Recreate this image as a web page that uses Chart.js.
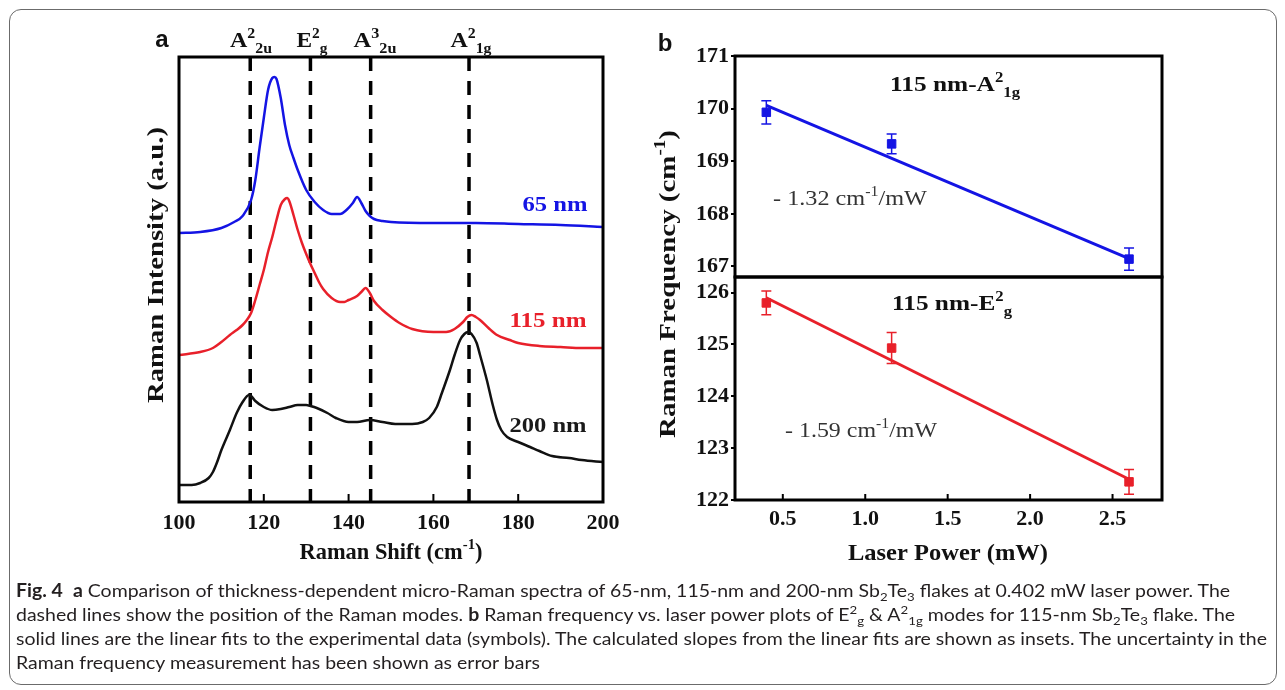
<!DOCTYPE html>
<html>
<head>
<meta charset="utf-8">
<script src="https://cdn.jsdelivr.net/npm/chart.js@4.4.1/dist/chart.umd.min.js"></script>
<style>
  html, body { margin: 0; padding: 0; background: #fff; }
  body { width: 1285px; height: 690px; position: relative; overflow: hidden; }
  .frame { position: absolute; left: 9px; top: 9px; width: 1266px; height: 674px;
           border: 1.5px solid #6b6b6b; border-radius: 12px; }
  canvas { position: absolute; left: 0; top: 0; }
  .caption { position: absolute; left: 16px; top: 578px; font-family: Lato, "Open Sans", sans-serif;
             font-size: 18px; color: #231f20; line-height: 24px; }
  .caption div { white-space: nowrap; width: max-content; transform-origin: 0 50%; }
  .caption sub, .caption sup { font-size: 0.68em; line-height: 0; }
  .caption sup { vertical-align: 0.55em; }
  .caption sub { vertical-align: -0.3em; }
</style>
</head>
<body>
<div class="frame"></div>
<canvas id="spectra" width="1285" height="690"></canvas>
<canvas id="a1g" width="1285" height="690"></canvas>
<canvas id="eg" width="1285" height="690"></canvas>
<div class="caption">
  <div><b>Fig. 4</b>&nbsp; <b>a</b> Comparison of thickness-dependent micro-Raman spectra of 65-nm, 115-nm and 200-nm Sb<sub>2</sub>Te<sub>3</sub> flakes at 0.402 mW laser power. The</div>
  <div>dashed lines show the position of the Raman modes. <b>b</b> Raman frequency vs. laser power plots of E<sup>2</sup><sub>g</sub> &amp; A<sup>2</sup><sub>1g</sub> modes for 115-nm Sb<sub>2</sub>Te<sub>3</sub> flake. The</div>
  <div>solid lines are the linear fits to the experimental data (symbols). The calculated slopes from the linear fits are shown as insets. The uncertainty in the</div>
  <div>Raman frequency measurement has been shown as error bars</div>
</div>
<script>
// ---------- Data (panel a: spectra) ----------
const blueShift = [100, 105, 110, 113, 115, 117, 118, 119, 120, 121, 122, 122.5, 123, 124, 125, 126, 127, 128, 130, 132, 134, 136, 138, 139.5, 141, 142, 143, 144, 145, 146, 148, 150, 160, 170, 180, 190, 200];
const blueInt   = [269, 270, 274, 280, 286, 302, 322, 354, 384, 412, 424, 425, 423, 404, 377, 357, 344, 332, 312, 300, 292, 288, 288, 292, 299, 305, 299, 291, 286, 283, 281, 280, 279, 279, 278, 277, 275];

const redShift = [100, 105, 108, 110, 112, 113.6, 115, 116, 117, 118, 119, 120, 121, 122, 123, 124, 125, 125.5, 126, 127, 128, 129, 130, 131, 132, 133, 134, 136, 138, 139, 140, 142, 143, 144, 145, 146, 148, 150, 152, 155, 160, 163, 165, 167, 168, 169, 170, 171, 173, 175, 178, 180, 185, 190, 195, 200];
const redInt   = [147, 150, 154, 160, 167, 172, 177, 182, 189, 202, 217, 232, 250, 265, 282, 297, 303, 304, 301, 287, 272, 259, 248, 238, 229, 220, 213, 204, 200, 200, 202, 206, 210, 214, 209, 201, 192, 185, 179, 173, 170, 170, 173, 180, 185, 187, 185, 182, 174, 167, 162, 159, 156, 155, 154, 154];

const blackShift = [100, 103, 105, 107, 108, 109, 110, 112, 113.6, 115, 116.5, 117, 118, 120, 122, 124, 126, 128, 130, 131, 132.5, 135, 137, 140, 142, 145, 148, 151, 155, 157.5, 159, 160.8, 162, 163.9, 165, 166.3, 167.3, 168.2, 169, 170.2, 171, 172.6, 174, 175, 176, 177.4, 180, 182.8, 185, 188, 192, 195, 200];
const blackInt   = [17, 17, 19, 24, 30, 40, 52, 72, 89, 100, 107, 106, 101, 95, 92, 93, 95, 97, 97, 96, 94, 89, 84, 80, 80, 82, 80, 78, 78, 80, 84, 95, 109, 132, 147, 162, 168, 170, 168, 159, 147, 122, 97, 82, 72, 65, 60, 55, 51, 46, 44, 42, 40];

const intensityRange = [0, 445];
const shiftRange = [100, 200];
const modePos = [116.8, 131, 145.2, 168.4];

// ---------- Data (panel b: frequency vs power) ----------
const powerMW = [0.4, 1.16, 2.6];
const a1gFreq = [169.93, 169.33, 167.14];
const a1gErr  = [0.22, 0.19, 0.21];
const egFreq  = [125.8, 124.93, 122.35];
const egErr   = [0.23, 0.3, 0.24];
const a1gFitPower = [0.4, 2.6];
const a1gFitFreq  = [170.06, 167.15];
const egFitPower  = [0.4, 2.6];
const egFitFreq   = [125.9, 122.4];
const powerRange = [0.21, 2.8];
const a1gRange = [166.8, 171];
const egRange  = [122, 126.3];

// ---------- Styles ----------
const SERIF = '"Liberation Serif", "Times New Roman", serif';
const SANS = '"Liberation Sans", Arial, sans-serif';
const BLUE = '#1414e4', RED = '#e8202a', BLACK = '#111111';
const tickFont = { family: SERIF, size: 22, weight: 'bold' };

function pts(xs, ys) {
  return xs.map((x, i) => ({ x: x, y: ys[i] }));
}

// text with superscripts / subscripts, centred on (x, y), optionally squeezed to a width
function richText(ctx, parts, x, y, o) {
  const size = o.size || 22;
  const weight = o.bold === false ? '' : 'bold ';
  const fam = o.family || SERIF;
  const fontFor = t => weight + (t ? size * 0.66 : size) + 'px ' + fam;
  let total = 0;
  const widths = parts.map(p => {
    ctx.font = fontFor(p[1]);
    const w = ctx.measureText(p[0]).width;
    total += w;
    return w;
  });
  ctx.save();
  ctx.translate(x, y);
  if (o.rotate) ctx.rotate(o.rotate);
  if (o.width) ctx.scale(o.width / total, 1);
  ctx.fillStyle = o.color || BLACK;
  ctx.textBaseline = 'alphabetic';
  ctx.textAlign = 'left';
  let cx = -total / 2;
  parts.forEach((p, i) => {
    ctx.font = fontFor(p[1]);
    const dy = p[1] === 'sup' ? -size * 0.4 : p[1] === 'sub' ? size * 0.25 : 0;
    ctx.fillText(p[0], cx, size * 0.33 + dy);
    cx += widths[i];
  });
  ctx.restore();
}

// ---------- Plugins ----------
const boxAndTicks = {
  id: 'boxAndTicks',
  afterDatasetsDraw(chart, args, opts) {
    const { ctx, chartArea: a, scales } = chart;
    ctx.save();
    ctx.strokeStyle = '#000';
    ctx.lineWidth = 3;
    ctx.strokeRect(a.left, a.top, a.right - a.left, a.bottom - a.top);
    if (opts.xTickLen) {
      const xs = scales.x;
      ctx.lineWidth = 2;
      ctx.beginPath();
      xs.ticks.forEach(t => {
        const px = xs.getPixelForValue(t.value);
        if (px <= a.left + 3 || px >= a.right - 3) return;
        ctx.moveTo(px, a.bottom);
        ctx.lineTo(px, a.bottom - opts.xTickLen);
      });
      ctx.stroke();
    }
    ctx.restore();
  }
};

const errorBars = {
  id: 'errorBars',
  afterDatasetsDraw(chart, args, opts) {
    const { ctx, scales: { x, y } } = chart;
    ctx.save();
    ctx.strokeStyle = opts.color;
    ctx.lineWidth = 1.5;
    opts.xs.forEach((v, i) => {
      const px = x.getPixelForValue(v);
      const top = y.getPixelForValue(opts.ys[i] + opts.errs[i]);
      const bot = y.getPixelForValue(opts.ys[i] - opts.errs[i]);
      ctx.beginPath();
      ctx.moveTo(px, top); ctx.lineTo(px, bot);
      ctx.moveTo(px - 5, top); ctx.lineTo(px + 5, top);
      ctx.moveTo(px - 5, bot); ctx.lineTo(px + 5, bot);
      ctx.stroke();
    });
    ctx.restore();
  }
};

const labelsA = {
  id: 'labelsA',
  afterDraw(chart) {
    const ctx = chart.ctx;
    richText(ctx, [['a', '']], 162, 39, { family: SANS, size: 24 });
    richText(ctx, [['A', ''], ['2', 'sup'], ['2u', 'sub']], 251, 40, { width: 42 });
    richText(ctx, [['E', ''], ['2', 'sup'], ['g', 'sub']], 312, 40, { width: 31 });
    richText(ctx, [['A', ''], ['3', 'sup'], ['2u', 'sub']], 375, 40, { width: 43 });
    richText(ctx, [['A', ''], ['2', 'sup'], ['1g', 'sub']], 471, 40, { width: 41 });
    richText(ctx, [['65 nm', '']], 555, 204, { width: 65, color: BLUE });
    richText(ctx, [['115 nm', '']], 548, 320, { width: 77, color: RED });
    richText(ctx, [['200 nm', '']], 548, 425, { width: 77, color: '#1a1a1a' });
    richText(ctx, [['Raman Shift (cm', ''], ['-1', 'sup'], [')', '']], 391, 551, { width: 183, size: 23 });
    richText(ctx, [['Raman Intensity (a.u.)', '']], 155, 265, { width: 276, size: 24, rotate: -Math.PI / 2 });
  }
};

const labelsB = {
  id: 'labelsB',
  afterDraw(chart) {
    const ctx = chart.ctx;
    richText(ctx, [['b', '']], 665, 43, { family: SANS, size: 24 });
    richText(ctx, [['115 nm-A', ''], ['2', 'sup'], ['1g', 'sub']], 955, 84, { width: 130 });
    richText(ctx, [['115 nm-E', ''], ['2', 'sup'], ['g', 'sub']], 952, 303, { width: 120 });
    richText(ctx, [['- 1.32 cm', ''], ['-1', 'sup'], ['/mW', '']], 850, 198, { width: 154, bold: false, color: '#333' });
    richText(ctx, [['- 1.59 cm', ''], ['-1', 'sup'], ['/mW', '']], 861, 430, { width: 152, bold: false, color: '#333' });
    richText(ctx, [['Laser Power (mW)', '']], 948, 552, { width: 200, size: 23 });
    richText(ctx, [['Raman Frequency (cm', ''], ['-1', 'sup'], [')', '']], 667, 284, { width: 308, size: 24, rotate: -Math.PI / 2 });
  }
};

const baseOptions = {
  responsive: false,
  animation: false,
  devicePixelRatio: 1,
  plugins: { legend: { display: false }, tooltip: { enabled: false } }
};

// ---------- Panel a ----------
new Chart(document.getElementById('spectra'), {
  type: 'line',
  data: {
    datasets: [
      { data: pts(blueShift, blueInt), borderColor: BLUE, borderWidth: 2.5, pointRadius: 0, cubicInterpolationMode: 'monotone' },
      { data: pts(redShift, redInt), borderColor: RED, borderWidth: 2.5, pointRadius: 0, cubicInterpolationMode: 'monotone' },
      { data: pts(blackShift, blackInt), borderColor: BLACK, borderWidth: 2.5, pointRadius: 0, cubicInterpolationMode: 'monotone' }
    ].concat(modePos.map(p => ({
      data: [{ x: p, y: intensityRange[1] }, { x: p, y: intensityRange[0] }],
      borderColor: '#000', borderWidth: 3.5, borderDash: [14, 10], pointRadius: 0
    })))
  },
  options: Object.assign({}, baseOptions, {
    layout: { padding: { left: 179, right: 682, top: 57, bottom: 148 } },
    plugins: Object.assign({}, baseOptions.plugins, { boxAndTicks: { xTickLen: 8 } }),
    scales: {
      x: {
        type: 'linear', min: shiftRange[0], max: shiftRange[1],
        ticks: { stepSize: 20, color: BLACK, font: tickFont, padding: 8, maxRotation: 0 },
        grid: { display: false, drawTicks: false },
        border: { display: false },
        afterFit: s => { s.height = 40; }
      },
      y: { type: 'linear', display: false, min: intensityRange[0], max: intensityRange[1] }
    }
  }),
  plugins: [boxAndTicks, labelsA]
});

// ---------- Panel b ----------
function freqChart(id, o) {
  return new Chart(document.getElementById(id), {
    type: 'scatter',
    data: {
      datasets: [
        { data: pts(o.fitX, o.fitY), showLine: true, borderColor: o.color, borderWidth: 3, pointRadius: 0 },
        { data: pts(powerMW, o.freq), pointStyle: 'rect', pointRadius: 6, backgroundColor: o.color, borderColor: o.color, borderWidth: 1 }
      ]
    },
    options: Object.assign({}, baseOptions, {
      layout: { padding: o.padding },
      plugins: Object.assign({}, baseOptions.plugins, {
        boxAndTicks: { xTickLen: o.showX ? 6 : 0 },
        errorBars: { xs: powerMW, ys: o.freq, errs: o.err, color: o.color }
      }),
      scales: {
        x: {
          type: 'linear', display: o.showX, min: powerRange[0], max: powerRange[1],
          ticks: { stepSize: 0.5, includeBounds: false, color: BLACK, font: tickFont, padding: 6, maxRotation: 0,
                   callback: v => v.toFixed(1) },
          grid: { display: false, drawTicks: false },
          border: { display: false },
          afterFit: s => { s.height = o.showX ? 40 : 0; }
        },
        y: {
          type: 'linear', min: o.range[0], max: o.range[1],
          ticks: { stepSize: 1, includeBounds: false, color: BLACK, font: tickFont, padding: 2 },
          grid: { drawOnChartArea: false, drawTicks: true, tickLength: 4, lineWidth: 2, color: '#000' },
          border: { display: false },
          afterFit: s => { s.width = 45; }
        }
      }
    }),
    plugins: [boxAndTicks, errorBars].concat(o.extra || [])
  });
}

freqChart('a1g', {
  fitX: a1gFitPower, fitY: a1gFitFreq, freq: a1gFreq, err: a1gErr, color: BLUE, range: a1gRange,
  showX: false, padding: { left: 690, right: 123, top: 56, bottom: 413 }
});
freqChart('eg', {
  fitX: egFitPower, fitY: egFitFreq, freq: egFreq, err: egErr, color: RED, range: egRange,
  showX: true, padding: { left: 690, right: 123, top: 277, bottom: 150 }, extra: [labelsB]
});

// ---------- Caption width ----------
function fitCaption() {
  const lines = document.querySelectorAll('.caption div');
  lines.forEach(l => { l.style.transform = 'none'; });
  const k = 1251 / lines[2].getBoundingClientRect().width;
  lines.forEach(l => { l.style.transform = 'scaleX(' + k + ')'; });
}
fitCaption();
if (document.fonts) document.fonts.ready.then(fitCaption);
</script>
</body>
</html>
